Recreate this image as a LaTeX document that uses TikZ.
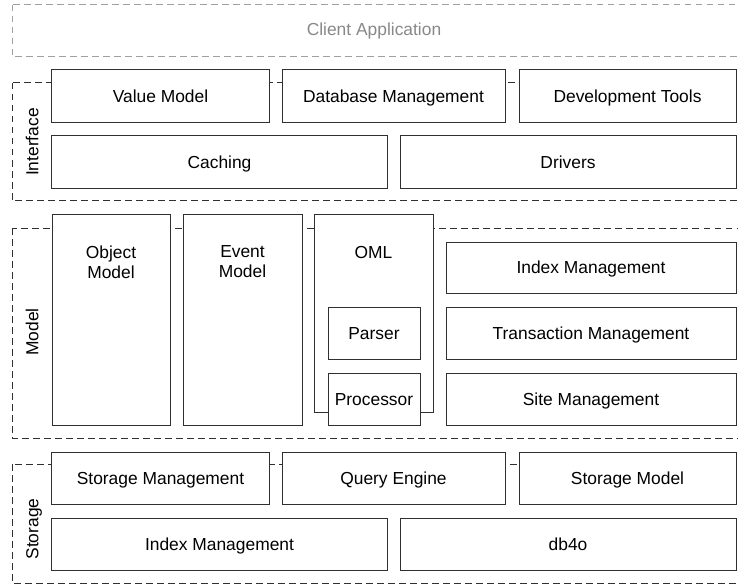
\documentclass[tikz,border=0pt]{standalone}
\usepackage{fontspec}
\setmainfont{Liberation Sans}
\definecolor{boxline}{HTML}{303030}
\definecolor{grpline}{HTML}{303030}
\definecolor{clientline}{HTML}{A0A0A0}
\definecolor{clienttext}{HTML}{888888}
\begin{document}
\begin{tikzpicture}[x=1bp,y=-1bp,
  every node/.style={font=\fontsize{17.4bp}{20bp}\selectfont},
  capc/.style={text height=12.5bp, text depth=0pt},
  blk/.style={draw=boxline, fill=white, line width=1bp, rectangle, inner sep=0pt, outer sep=0pt, capc},
  grp/.style={draw=grpline, line width=1bp, dash pattern=on 6.5bp off 4.5bp},
  clientgrp/.style={draw=clientline, line width=1bp, dash pattern=on 6.5bp off 4.5bp},
  side/.style={rotate=90, anchor=center, inner sep=0pt, capc}]
\useasboundingbox (0,0) rectangle (738,585);
\clip (0,0) rectangle (738,585);

% layer frames
\draw[clientgrp] (12,5) rectangle (745,57);
\node[text=clienttext, inner sep=0pt, capc] (client) at (374,29.5) {Client Application};
\draw[grp] (12,83) rectangle (745,201);
\draw[grp] (12,228) rectangle (745,438);
\draw[grp] (12,464) rectangle (745,583);

% layer names
\node[side] (lifc) at (32,142) {Interface};
\node[side] (lmod) at (32,332) {Model};
\node[side] (lsto) at (32,529) {Storage};

% interface layer
\node[blk, minimum width=217bp, minimum height=53bp] (valmod) at (160.5,96.5) {Value Model};
\node[blk, minimum width=223bp, minimum height=53bp] (dbm) at (393.5,96.5) {Database Management};
\node[blk, minimum width=217bp, minimum height=53bp] (dev) at (627.5,96.5) {Development Tools};
\node[blk, minimum width=335bp, minimum height=52bp] (cach) at (219.5,162) {Caching};
\node[blk, minimum width=336bp, minimum height=52bp] (drv) at (568,162) {Drivers};

% model layer
\node[blk, minimum width=118bp, minimum height=210bp] (objm) at (111,320) {};
\node[inner sep=0pt, align=center] (objt) at (111,262) {Object\\Model};
\node[blk, minimum width=119bp, minimum height=210bp] (evm) at (242.5,320) {};
\node[inner sep=0pt, align=center] (evt) at (242.5,262) {Event\\Model};
\node[blk, minimum width=119bp, minimum height=197bp] (oml) at (373.5,313.5) {};
\node[inner sep=0pt, capc] (omlt) at (373.5,252) {OML};
\node[blk, minimum width=92bp, minimum height=52bp] (parser) at (374,333) {Parser};
\node[blk, minimum width=92bp, minimum height=52bp] (proc) at (374,399) {Processor};
\node[blk, minimum width=290bp, minimum height=51bp] (idxm) at (591,267.5) {Index Management};
\node[blk, minimum width=290bp, minimum height=52bp] (txm) at (591,333) {Transaction Management};
\node[blk, minimum width=290bp, minimum height=52bp] (site) at (591,399) {Site Management};

% storage layer
\node[blk, minimum width=217bp, minimum height=52bp] (stm) at (160.5,478) {Storage Management};
\node[blk, minimum width=223bp, minimum height=52bp] (qe) at (393.5,478) {Query Engine};
\node[blk, minimum width=217bp, minimum height=52bp] (smod) at (627.5,478) {Storage Model};
\node[blk, minimum width=335bp, minimum height=52bp] (sidx) at (219.5,544) {Index Management};
\node[blk, minimum width=336bp, minimum height=52bp] (db4o) at (568,544) {db4o};
\end{tikzpicture}
\end{document}
